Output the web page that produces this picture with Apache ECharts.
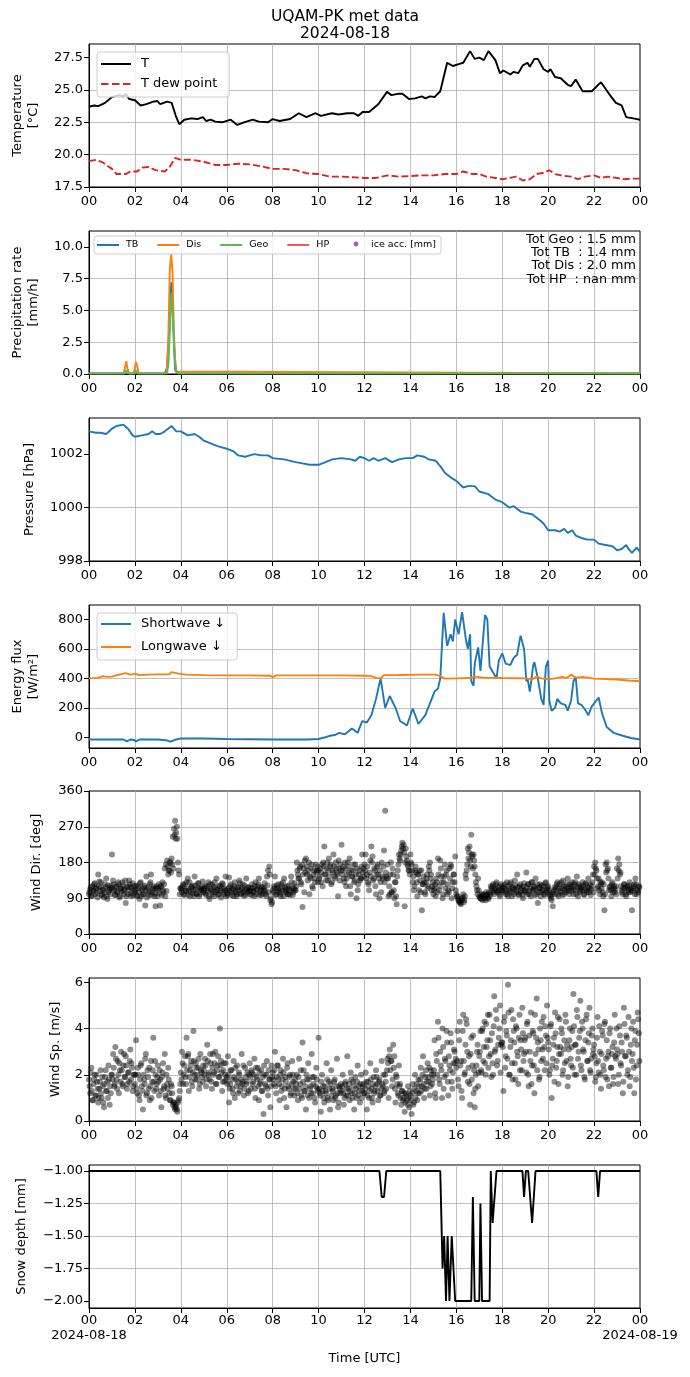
<!DOCTYPE html>
<html><head><meta charset="utf-8">
<script src="https://cdn.jsdelivr.net/npm/echarts@6/dist/echarts.min.js"></script>
<style>html,body{margin:0;padding:0;background:#fff}#c{width:690px;height:1377px}</style>
</head><body><div id="c"></div>
<script>
// ---------- DATA (hours UTC, values) ----------
const hourTicks = [0,2,4,6,8,10,12,14,16,18,20,22,24];
const tempTicks = [17.5,20,22.5,25,27.5];
const precipTicks = [0,2.5,5,7.5,10];
const pressTicks = [998,1000,1002];
const fluxTicks = [0,200,400,600,800];
const dirTicks = [0,90,180,270,360];
const spdTicks = [0,2,4,6];
const snowTicks = [-2,-1.75,-1.5,-1.25,-1];

const tempT = [[0,23.7],[0.23,23.8],[0.4,23.75],[0.7,24.0],[1.0,24.45],[1.3,24.6],[1.5,24.5],[1.6,24.7],[1.75,24.3],[2.0,24.2],[2.25,23.8],[2.5,23.9],[2.8,24.1],[2.97,24.15],[3.1,23.9],[3.4,24.1],[3.6,24.0],[3.78,23.0],[3.93,22.35],[4.15,22.7],[4.45,22.8],[4.73,22.75],[4.96,22.9],[5.1,22.6],[5.3,22.7],[5.5,22.55],[5.8,22.5],[6.17,22.7],[6.46,22.3],[6.75,22.5],[7.13,22.7],[7.4,22.55],[7.8,22.5],[8.0,22.75],[8.3,22.6],[8.76,22.75],[9.14,23.2],[9.47,22.9],[9.87,23.2],[10.1,23.0],[10.58,23.2],[10.87,23.1],[11.25,23.2],[11.54,23.2],[11.73,23.0],[11.92,23.3],[12.2,23.3],[12.6,23.9],[12.98,24.85],[13.17,24.6],[13.46,24.7],[13.65,24.7],[13.94,24.3],[14.2,24.35],[14.5,24.5],[14.65,24.35],[14.85,24.5],[15.05,24.45],[15.3,24.9],[15.45,26.0],[15.6,27.1],[15.85,26.85],[16.1,27.0],[16.3,27.1],[16.6,28.0],[16.8,27.4],[17.0,27.5],[17.2,27.3],[17.4,28.0],[17.7,27.3],[17.9,26.3],[18.05,26.5],[18.35,26.2],[18.5,26.4],[18.7,26.3],[18.9,26.9],[19.1,27.1],[19.2,26.8],[19.4,27.4],[19.55,27.4],[19.8,26.6],[20.0,26.4],[20.1,26.6],[20.3,26.0],[20.55,25.9],[20.85,25.4],[21.0,25.3],[21.2,25.8],[21.5,24.9],[21.9,24.9],[22.3,25.6],[22.65,24.7],[22.95,24.0],[23.2,23.8],[23.4,22.9],[23.7,22.8],[24,22.7]];
const tempTd = [[0,19.5],[0.3,19.6],[0.6,19.4],[1.0,18.9],[1.2,18.5],[1.6,18.5],[1.8,18.7],[2.1,18.7],[2.3,19.0],[2.6,19.05],[2.9,18.8],[3.3,18.7],[3.5,19.0],[3.75,19.75],[4.0,19.6],[4.5,19.6],[5.0,19.45],[5.5,19.2],[6.0,19.2],[6.5,19.3],[7.0,19.25],[7.5,19.1],[8.0,18.9],[8.5,18.9],[9.0,18.8],[9.5,18.55],[10.0,18.5],[10.5,18.3],[11.0,18.3],[11.5,18.25],[12.0,18.2],[12.5,18.2],[13.0,18.4],[13.5,18.3],[14.0,18.35],[14.5,18.4],[15.0,18.4],[15.5,18.5],[16.0,18.5],[16.3,18.7],[16.7,18.5],[17.0,18.5],[17.3,18.3],[17.7,18.2],[18.0,18.1],[18.3,18.2],[18.6,18.3],[18.9,18.0],[19.2,18.1],[19.5,18.5],[19.8,18.6],[20.05,18.8],[20.3,18.5],[20.7,18.35],[21.0,18.3],[21.3,18.1],[21.6,18.3],[22.0,18.4],[22.3,18.2],[22.6,18.3],[23.0,18.2],[23.3,18.1],[23.6,18.15],[24,18.15]];

const precipTB = [[0,0.05],[1.55,0.05],[1.62,0.2],[1.7,0.05],[3.3,0.05],[3.4,0.5],[3.5,3.5],[3.58,7.2],[3.65,5.0],[3.75,0.3],[3.85,0.05],[24,0.05]];
const precipDis = [[0,0.05],[1.5,0.05],[1.56,0.4],[1.62,1.0],[1.68,0.4],[1.75,0.05],[1.95,0.05],[2.0,0.5],[2.05,0.95],[2.1,0.6],[2.17,0.05],[3.25,0.05],[3.3,0.2],[3.38,0.15],[3.45,2.5],[3.52,8.2],[3.58,9.4],[3.64,8.0],[3.7,3.0],[3.78,0.2],[3.85,0.05],[24,0.05]];
const precipGeo = [[0,0.05],[1.55,0.05],[1.62,0.3],[1.7,0.05],[2.0,0.05],[2.05,0.3],[2.12,0.05],[3.4,0.05],[3.47,1.0],[3.54,4.5],[3.6,6.4],[3.66,4.0],[3.72,1.5],[3.8,0.3],[3.88,0.05],[22.7,0.05],[22.78,0.18],[22.86,0.05],[24,0.05]];
const precipHP = [];
const iceAcc = [];
const precipTotals = ['Tot Geo : 1.5 mm','Tot TB  : 1.4 mm','Tot Dis : 2.0 mm','Tot HP  : nan mm'];

const pressure = [[0,1002.85],[0.3,1002.8],[0.5,1002.8],[0.75,1002.75],[1.0,1002.95],[1.2,1003.05],[1.5,1003.1],[1.7,1002.95],[1.9,1002.7],[2.0,1002.65],[2.3,1002.7],[2.6,1002.75],[2.75,1002.85],[2.9,1002.75],[3.1,1002.75],[3.3,1002.85],[3.6,1003.05],[3.8,1002.85],[4.0,1002.85],[4.3,1002.7],[4.6,1002.75],[4.8,1002.65],[5.0,1002.5],[5.3,1002.4],[5.6,1002.3],[6.0,1002.2],[6.3,1002.1],[6.5,1001.95],[6.8,1001.9],[7.0,1001.95],[7.2,1002.0],[7.5,1001.95],[7.8,1001.95],[8.0,1001.85],[8.5,1001.8],[9.0,1001.7],[9.3,1001.65],[9.6,1001.6],[10.0,1001.6],[10.3,1001.7],[10.6,1001.8],[11.0,1001.85],[11.4,1001.8],[11.6,1001.75],[11.8,1001.9],[12.0,1001.85],[12.2,1001.75],[12.4,1001.85],[12.6,1001.75],[12.9,1001.85],[13.2,1001.7],[13.5,1001.8],[13.8,1001.85],[14.1,1001.85],[14.3,1001.95],[14.6,1001.9],[14.8,1001.8],[15.1,1001.75],[15.3,1001.55],[15.5,1001.3],[15.8,1001.1],[16.0,1001.0],[16.3,1000.75],[16.5,1000.8],[16.8,1000.8],[17.0,1000.6],[17.4,1000.5],[17.7,1000.3],[18.0,1000.2],[18.3,1000.0],[18.5,1000.05],[18.8,999.85],[19.0,999.8],[19.3,999.75],[19.6,999.55],[19.8,999.4],[20.0,999.15],[20.3,999.15],[20.5,999.1],[20.7,999.2],[20.85,999.05],[21.05,999.15],[21.2,998.95],[21.5,998.85],[21.7,998.8],[22.0,998.8],[22.2,998.65],[22.5,998.6],[22.8,998.55],[23.0,998.4],[23.2,998.45],[23.4,998.6],[23.5,998.45],[23.65,998.3],[23.85,998.5],[24.0,998.35]];

const shortwave = [[0,-15],[0.8,-15],[1.5,-15],[1.65,-28],[1.8,-15],[1.95,-18],[2.05,-28],[2.2,-15],[3.0,-15],[3.35,-20],[3.55,-30],[3.8,-15],[4.0,-8],[5.0,-8],[6.0,-12],[8.0,-15],[9.5,-15],[10.0,-12],[10.25,-2],[10.5,10],[10.7,15],[10.9,30],[11.15,20],[11.45,60],[11.7,30],[11.9,110],[12.1,100],[12.3,150],[12.5,260],[12.7,400],[12.9,200],[13.1,280],[13.35,200],[13.55,110],[13.85,80],[14.1,195],[14.35,90],[14.65,150],[14.85,230],[15.05,310],[15.2,330],[15.3,400],[15.45,845],[15.6,620],[15.75,700],[15.85,650],[15.95,800],[16.1,700],[16.25,850],[16.33,855],[16.43,650],[16.5,600],[16.6,700],[16.65,380],[16.75,350],[16.8,500],[16.95,610],[17.05,450],[17.25,830],[17.35,800],[17.45,480],[17.6,440],[17.75,400],[17.85,520],[18.0,570],[18.15,500],[18.35,490],[18.5,540],[18.65,560],[18.75,650],[18.8,690],[18.95,600],[19.05,380],[19.1,400],[19.2,310],[19.35,490],[19.4,510],[19.55,400],[19.7,260],[19.8,220],[19.9,480],[20.0,520],[20.05,250],[20.15,180],[20.3,200],[20.4,260],[20.55,230],[20.75,220],[20.85,180],[21.0,250],[21.1,380],[21.2,410],[21.3,230],[21.45,220],[21.6,190],[21.75,150],[21.9,210],[22.0,230],[22.2,270],[22.35,160],[22.55,70],[22.85,30],[23.25,10],[23.6,-5],[24,-15]];
const longwave = [[0,400],[0.4,403],[0.6,415],[0.8,410],[1.0,412],[1.3,425],[1.6,435],[1.8,425],[2.0,432],[2.2,422],[2.6,425],[3.0,427],[3.5,428],[3.6,442],[3.9,432],[4.2,425],[5,422],[6,420],[7,420],[7.9,418],[8.0,408],[8.15,420],[9,420],[10,420],[11,420],[12,418],[12.3,415],[12.5,403],[12.7,400],[12.85,422],[13.5,423],[14.5,425],[15.1,425],[15.3,415],[15.5,398],[16,400],[16.6,402],[16.8,412],[17.2,405],[18,402],[19,400],[19.3,393],[19.5,412],[19.7,400],[20.0,393],[20.3,400],[20.6,410],[20.8,402],[21.0,425],[21.2,405],[21.5,410],[22.0,398],[23.0,392],[23.5,385],[24,380]];

// wind samples: set A every 3 minutes from 00:00, set B every 3 minutes from 00:01:30 (20 per hour each)
const windDirA = [
100,112,95,120,108,128,115,104,150,132,118,98,110,92,125,140,88,105,115,122,
200,135,110,98,120,105,125,95,115,130,108,112,78,120,100,135,118,95,128,110,
105,122,95,115,88,130,110,100,118,72,145,112,98,125,150,105,115,95,70,120,
110,125,72,118,130,105,165,175,185,150,160,178,190,245,265,285,255,240,160,100,
115,105,125,98,110,130,140,108,95,118,122,102,145,112,100,128,95,115,110,132,
108,120,98,115,130,88,112,125,105,95,118,140,110,100,122,92,128,105,115,145,
110,98,142,120,105,115,95,130,108,100,118,135,102,112,125,96,110,140,105,118,
100,115,125,108,95,130,112,120,140,105,98,118,110,128,100,145,160,170,85,75,
110,120,145,100,115,125,105,95,118,130,140,108,112,100,122,98,145,115,105,128,
110,180,150,140,170,125,68,165,185,190,150,160,100,140,175,115,160,130,155,170,
160,145,130,175,180,220,150,165,135,190,170,125,160,200,145,180,155,95,165,175,
225,160,140,180,120,150,170,190,100,145,160,130,175,90,110,150,135,140,200,165,
175,200,150,130,110,185,220,195,140,160,100,170,150,90,130,180,140,210,310,145,
175,95,100,180,105,150,90,130,75,160,200,185,210,230,225,70,215,185,170,160,
200,175,130,110,160,155,95,150,160,105,60,125,130,100,140,115,170,180,150,120,
100,115,95,130,190,110,185,145,90,130,175,150,100,110,165,175,90,130,150,195,
100,95,85,80,75,90,100,85,150,160,215,205,185,250,195,200,170,130,110,140,
95,90,100,85,98,92,105,100,88,95,120,110,125,100,115,130,105,110,95,125,
108,120,115,100,130,95,112,125,105,118,100,135,110,150,98,120,105,115,90,128,
110,155,100,125,108,95,130,112,118,140,100,78,115,125,105,110,120,98,130,112,
120,105,95,85,70,110,100,118,130,95,125,105,115,135,100,120,110,140,108,125,
115,130,100,125,110,145,95,120,108,118,130,100,112,125,105,140,115,98,120,150,
170,180,160,115,140,100,125,130,95,60,175,180,165,110,120,95,130,115,105,120,
165,190,175,155,110,100,125,115,95,120,105,130,110,60,115,125,140,100,110,120];
const windDirB = [
105,118,96,110,125,100,115,92,120,108,130,98,112,104,118,95,122,110,100,116,
112,125,98,118,105,130,92,115,108,122,100,135,95,118,110,125,102,115,98,120,
110,98,120,105,128,95,115,100,122,108,92,118,105,130,98,112,120,102,115,95,
115,102,120,98,110,125,95,108,170,160,182,155,175,165,250,240,270,180,150,115,
112,120,100,125,108,115,98,130,105,118,110,95,122,102,115,128,100,112,118,105,
115,102,120,108,95,125,110,100,118,130,105,112,98,120,108,115,125,100,110,95,
102,115,108,125,98,112,120,105,95,118,110,128,100,115,105,122,98,112,118,108,
108,98,115,105,120,100,112,125,98,110,118,102,115,108,95,122,105,150,90,80,
105,115,98,122,108,112,100,125,110,95,118,105,120,100,112,108,130,98,115,110,
120,160,140,165,130,175,150,105,155,170,135,180,145,165,120,150,140,175,160,130,
140,165,155,120,170,150,135,180,160,145,175,130,155,170,140,165,150,185,135,160,
150,170,130,165,140,180,155,120,160,145,175,135,150,165,125,160,140,170,155,145,
160,140,170,125,155,145,180,135,165,120,150,175,140,160,105,145,170,130,155,140,
140,120,150,105,165,110,130,95,145,175,190,200,220,215,205,180,195,175,160,150,
180,160,145,120,170,130,150,110,135,160,125,145,105,130,150,120,160,140,110,130,
110,125,140,105,150,120,165,130,100,145,115,160,125,105,140,170,115,150,130,110,
95,88,82,78,85,92,80,95,140,175,190,220,170,200,165,185,150,120,100,110,
92,88,95,100,90,85,98,92,105,100,115,120,105,112,125,108,118,100,120,110,
115,105,125,110,100,120,108,130,95,115,112,122,105,118,100,125,110,98,120,108,
105,118,125,100,115,130,108,120,98,112,125,105,118,95,122,110,100,128,105,118,
110,98,90,100,105,118,112,125,100,115,108,130,98,120,112,105,125,115,100,120,
108,120,112,130,100,118,125,105,115,110,122,98,128,110,118,105,125,112,130,105,
150,165,140,120,110,130,115,105,125,100,155,160,140,118,110,125,105,120,112,100,
140,160,150,120,105,115,125,100,118,110,122,105,115,108,120,100,125,112,105,118];
const windSpdA = [
1.8,1.2,2.3,0.9,1.6,2.0,1.1,1.7,0.8,1.4,2.2,1.0,1.5,0.6,1.9,1.3,1.7,2.4,0.7,1.2,
2.0,2.9,1.5,3.2,1.8,2.6,1.2,2.2,3.0,1.6,2.4,1.9,2.8,1.4,2.1,1.7,3.1,2.5,1.3,2.0,
1.6,3.5,1.2,2.0,0.9,2.4,1.5,0.5,1.8,2.7,1.1,2.2,1.4,0.9,2.6,1.7,3.6,1.3,2.0,1.6,
2.4,1.1,1.8,0.6,2.1,1.4,2.9,1.0,1.6,2.3,1.2,0.9,1.5,0.7,0.8,0.5,0.6,0.4,0.9,1.3,
2.1,3.0,1.6,2.4,1.9,3.6,2.8,1.3,2.2,2.6,1.5,3.9,2.0,2.5,1.8,2.3,1.4,2.9,2.1,1.7,
2.2,2.7,1.5,3.3,2.0,1.8,2.5,1.4,2.9,2.1,3.0,1.6,2.4,1.9,4.0,2.6,1.3,2.2,1.7,2.5,
1.9,2.8,0.8,1.6,2.2,1.4,2.6,1.0,1.8,2.4,1.2,2.0,1.5,2.9,1.7,1.1,2.3,1.6,2.1,1.3,
2.5,1.4,2.1,1.7,2.7,1.0,1.9,2.3,0.9,1.6,2.2,1.3,0.3,2.0,1.5,2.6,1.1,1.8,0.6,2.4,
2.1,1.6,3.0,1.2,2.4,1.8,0.9,2.2,1.5,2.7,1.0,1.9,0.6,2.5,1.4,2.0,1.2,2.6,1.7,1.1,
1.4,2.0,0.9,2.7,1.6,1.1,3.4,2.2,1.3,0.5,1.8,2.5,1.0,1.5,2.9,1.2,1.9,0.8,2.3,1.4,
3.6,1.2,0.4,2.0,1.5,0.8,1.3,2.5,1.0,1.7,0.5,2.2,1.4,0.9,1.8,1.1,2.7,0.6,1.5,1.2,
1.3,2.0,0.7,1.6,1.1,2.8,1.4,0.9,2.1,1.2,1.7,0.5,1.9,1.0,2.4,1.5,0.8,2.0,1.3,1.6,
1.2,2.1,0.5,1.7,1.0,2.5,1.4,0.8,1.9,1.3,2.2,1.6,0.9,1.8,1.1,2.6,1.5,1.2,2.0,1.4,
2.7,1.0,3.1,2.6,1.5,3.3,2.8,0.8,1.9,1.2,2.4,1.6,0.7,1.3,1.0,0.4,1.2,0.9,1.5,0.6,
1.1,0.3,1.6,0.8,2.0,1.3,0.9,1.8,1.2,2.3,1.5,2.8,1.0,1.9,1.4,2.5,1.7,1.1,2.2,1.6,
2.0,3.5,1.0,2.6,4.3,1.8,3.0,2.2,4.0,1.4,2.7,2.0,3.4,1.1,2.4,3.8,1.7,2.1,3.1,2.5,
2.3,3.9,1.5,4.3,2.6,1.0,4.6,2.0,3.3,4.2,1.7,2.8,0.7,3.6,2.4,1.2,0.6,2.0,3.0,1.5,
2.8,3.9,2.1,4.0,3.2,2.5,4.2,3.5,2.3,4.6,2.9,3.8,2.0,5.4,3.1,4.4,2.6,3.6,5.0,3.3,
3.4,1.3,4.5,2.8,3.7,5.9,2.0,3.2,4.8,1.8,3.9,2.5,4.1,3.0,1.6,4.6,3.5,2.2,3.8,2.9,
3.6,2.1,4.3,1.5,3.0,4.7,2.4,3.8,1.2,2.9,5.3,3.4,1.8,4.0,2.6,3.1,4.5,2.2,3.7,5.0,
3.4,2.0,4.1,1.0,2.7,3.6,4.7,2.3,3.2,1.6,4.4,2.9,3.8,2.2,3.5,4.6,2.6,1.5,3.1,4.0,
2.4,3.9,5.5,2.0,3.3,4.8,2.7,3.6,5.2,2.2,4.0,3.0,1.8,4.4,2.6,3.4,4.9,2.1,3.7,2.9,
3.3,1.7,2.5,4.5,2.1,3.0,1.4,3.9,2.4,4.2,1.9,3.5,2.8,1.5,4.0,2.3,3.2,1.9,4.6,2.7,
3.1,1.6,4.1,2.5,3.4,1.2,4.9,2.8,3.7,2.0,4.5,1.5,3.3,2.6,4.3,1.2,3.9,2.4,4.7,3.8];
const windSpdB = [
1.5,2.1,1.3,0.9,1.8,1.1,2.0,1.4,1.0,1.7,1.2,1.9,0.8,1.6,2.2,1.3,1.0,1.8,1.5,2.0,
1.8,2.3,1.6,2.7,1.4,2.0,2.5,1.7,2.2,1.5,2.9,1.9,2.4,1.6,2.1,2.6,1.8,2.3,1.5,2.0,
2.0,1.4,2.3,1.1,1.8,2.5,1.3,2.0,1.6,2.9,1.2,1.9,2.3,1.5,1.0,2.2,1.7,2.6,1.4,1.9,
1.7,2.2,1.3,1.9,2.5,1.5,1.1,2.0,1.4,1.8,0.9,1.6,1.2,0.8,0.6,0.7,0.5,0.8,1.0,1.6,
1.8,2.5,2.0,2.8,1.6,2.2,2.9,1.9,2.4,1.7,2.1,2.6,1.8,2.3,2.0,2.7,1.6,2.2,1.9,2.4,
2.0,2.4,1.8,2.6,2.1,2.9,1.7,2.3,2.0,2.5,1.6,2.2,2.8,1.9,2.4,2.1,1.7,2.5,2.0,1.8,
1.6,2.0,1.4,2.2,1.8,1.2,1.9,2.3,1.5,1.7,2.1,1.3,1.8,1.6,2.4,1.4,1.9,1.7,1.2,2.0,
1.9,2.2,1.6,2.0,1.4,2.3,1.8,1.5,2.1,1.7,1.3,1.9,2.4,1.6,2.0,1.4,2.2,1.8,1.5,1.9,
1.8,2.2,1.5,1.9,2.4,1.6,2.0,1.3,1.8,2.1,1.4,1.7,2.3,1.5,1.9,1.1,1.6,2.0,1.4,1.8,
1.6,1.2,1.9,1.4,2.2,1.0,1.7,1.3,1.5,2.0,1.1,1.8,1.4,1.2,1.9,1.6,1.0,1.5,1.8,1.3,
1.4,1.1,1.7,1.3,1.0,1.5,1.2,1.8,0.9,1.4,1.6,1.1,1.3,1.7,1.0,1.5,1.2,0.8,1.4,1.6,
1.5,1.2,1.0,1.7,1.4,1.1,1.6,1.3,1.8,1.0,1.5,1.2,1.4,1.7,1.1,1.3,1.6,1.0,1.5,1.2,
1.4,1.7,1.1,1.5,1.3,1.8,1.0,1.6,1.2,1.5,1.9,1.3,1.7,1.1,1.4,1.6,2.0,1.3,1.7,2.2,
2.5,2.8,2.2,2.6,1.8,2.3,1.4,2.0,1.6,1.1,1.5,1.0,1.3,0.9,1.2,0.8,1.1,0.7,1.0,1.3,
0.9,1.2,0.7,1.4,1.0,1.6,1.2,1.5,1.8,1.3,2.0,1.6,1.4,2.2,1.7,1.9,2.3,1.5,2.0,1.8,
2.2,1.2,2.9,2.0,3.6,1.6,2.4,1.0,3.2,1.9,2.6,3.9,1.7,2.8,2.2,3.4,1.4,2.5,3.0,2.7,
2.6,1.8,3.5,2.4,1.3,3.9,2.6,2.1,4.4,3.0,2.3,1.6,2.9,1.8,3.7,2.2,1.4,2.4,3.3,2.1,
3.0,2.2,3.9,2.6,4.3,2.0,3.2,4.6,2.8,3.5,1.9,2.5,4.1,3.0,4.8,2.4,3.3,4.0,2.1,3.4,
3.2,4.3,2.3,3.9,2.7,4.7,2.0,3.5,2.5,4.4,3.4,1.8,4.0,2.8,3.6,2.2,3.1,4.9,2.6,3.5,
3.0,4.2,2.0,3.7,2.6,1.6,3.9,2.4,4.6,3.6,2.2,3.1,1.9,3.5,4.3,2.7,3.2,4.1,2.5,3.6,
3.1,2.2,4.2,2.4,3.3,1.7,3.8,2.6,4.5,2.9,3.2,4.0,2.0,3.1,2.5,4.3,3.3,1.9,3.5,2.7,
3.2,2.3,4.1,3.3,2.0,4.5,3.0,3.9,2.4,4.3,3.1,1.9,3.5,4.6,2.6,3.8,2.2,2.7,4.0,3.1,
2.8,1.9,3.6,2.6,4.1,2.0,2.9,3.7,2.2,4.3,2.7,1.8,3.0,3.8,2.3,2.9,1.6,3.4,2.8,4.0,
2.9,2.0,3.7,2.4,3.0,1.7,4.2,2.8,3.6,2.2,3.0,1.9,4.0,2.9,2.3,3.5,1.8,3.3,4.4,2.6];
const windStepHours = 0.05;   // 3 minutes
const windOffsetB = 0.025;    // 1.5 minutes

const snowDepth = [[0,-1],[12.65,-1],[12.75,-1.2],[12.85,-1.2],[12.95,-1],[15.3,-1],[15.4,-1.75],[15.47,-1.5],[15.55,-2],[15.62,-1.5],[15.7,-2],[15.8,-1.5],[15.95,-2],[16.65,-2],[16.72,-1.2],[16.8,-2],[17.0,-2],[17.05,-1.25],[17.12,-2],[17.45,-2],[17.5,-1],[17.58,-1.4],[17.75,-1],[18.88,-1],[18.95,-1.2],[19.03,-1],[19.13,-1],[19.3,-1.4],[19.45,-1],[22.1,-1],[22.18,-1.2],[22.26,-1],[24,-1]];

// ---------- CHART ----------
const FONT = 'DejaVu Sans';
const FS = 13;
const tops = [44,231,418,605,791,978,1165];
const pad2 = v => String(Math.round(v) % 24).padStart(2,'0');
const minus = s => s.replace('-', '\u2212');

const grid = tops.map(t => ({left:89, right:50, top:t, height:143, show:true, borderColor:'#000', borderWidth:1, backgroundColor:'transparent'}));

const xAxis = tops.map((t,i) => ({
  type:'value', gridIndex:i, min:0, max:24, interval:2,
  axisLine:{show:true, onZero:false, lineStyle:{color:'#000', width:1}},
  axisTick:{show:true, length:5, lineStyle:{color:'#000', width:1}},
  axisLabel:{color:'#000', fontSize:FS, fontFamily:FONT, margin:i < 6 ? 7 : 5, showMinLabel:true, showMaxLabel:true, lineHeight:i < 6 ? 16 : 15,
    formatter: i < 6 ? (v => pad2(v)) : (v => v === 0 ? '00\n2024-08-18' : (v === 24 ? '00\n2024-08-19' : pad2(v)))},
  splitLine:{show:true, showMinLine:false, showMaxLine:false, lineStyle:{color:'#b0b0b0', width:0.8}}
}));

function yAx(i, min, max, ticks, fmt, interval) {
  const o = {type:'value', gridIndex:i, min:min, max:max,
    axisLine:{show:true, onZero:false, lineStyle:{color:'#000', width:1}},
    axisTick:{show:true, length:5, customValues:ticks, lineStyle:{color:'#000', width:1}},
    axisLabel:{customValues:ticks, formatter:fmt, color:'#000', fontSize:FS, fontFamily:FONT, margin:6},
    splitLine:{show:true, showMinLine:false, showMaxLine:false, lineStyle:{color:'#b0b0b0', width:0.8}}};
  if (interval) o.interval = interval;
  return o;
}
const yAxis = [
  yAx(0, 17.5, 28.55, tempTicks, v => v.toFixed(1), 2.5),
  yAx(1, 0, 11.24, precipTicks, v => v.toFixed(1), 2.5),
  yAx(2, 998, 1003.35, pressTicks, v => String(v), 2),
  yAx(3, -73, 898, fluxTicks, v => String(v)),
  yAx(4, 0, 360, dirTicks, v => String(v), 90),
  yAx(5, 0, 6.19, spdTicks, v => String(v), 2),
  yAx(6, -2.054, -0.954, snowTicks, v => minus(v.toFixed(2)))
];

function line(name, idx, data, color, extra) {
  return Object.assign({type:'line', name:name, xAxisIndex:idx, yAxisIndex:idx, data:data, showSymbol:false, symbol:'none',
    lineStyle:{color:color, width:1.9}, itemStyle:{color:color}, animation:false, z:3}, extra || {});
}
function windPoints(a, b) {
  return a.map((v,k) => [k*windStepHours, v]).concat(b.map((v,k) => [k*windStepHours + windOffsetB, v]));
}
function scatter(idx, a, b) {
  return {type:'scatter', xAxisIndex:idx, yAxisIndex:idx, data: windPoints(a, b),
    symbolSize:6, itemStyle:{color:'#000', opacity:0.45}, animation:false, z:3};
}

const series = [
  line('T', 0, tempT, '#000000'),
  line('T dew point', 0, tempTd, '#d62728', {lineStyle:{color:'#d62728', width:1.9, type:[7,3]}}),
  line('TB', 1, precipTB, '#1f77b4'),
  line('Dis', 1, precipDis, '#ff7f0e'),
  line('Geo', 1, precipGeo, '#5cb85c'),
  line('HP', 1, precipHP, '#e0615f'),
  {type:'scatter', name:'ice acc. [mm]', xAxisIndex:1, yAxisIndex:1, data:iceAcc, symbolSize:5, itemStyle:{color:'#9467bd'}},
  line('Pressure', 2, pressure, '#1f77b4'),
  line('Shortwave \u2193', 3, shortwave, '#1f77b4'),
  line('Longwave \u2193', 3, longwave, '#ff7f0e'),
  scatter(4, windDirA, windDirB),
  scatter(5, windSpdA, windSpdB),
  line('Snow', 6, snowDepth, '#000000')
];

// legend handle shapes (thin bar centered in the icon box; degenerate corners fix the box size)
const solid30 = 'path://M0,0L30,0L30,0Z M0,6h30v2h-30z M0,14L30,14L30,14Z';
const dash30 = 'path://M0,0L30,0L30,0Z M0,6h7.5v2h-7.5z M11,6h7.5v2h-7.5z M22,6h7.5v2h-7.5z M0,14L30,14L30,14Z';
const solid22 = 'path://M0,0L22,0L22,0Z M0,4h22v2h-22z M0,10L22,10L22,10Z';

const legendBase = {selectedMode:false, backgroundColor:'rgba(255,255,255,0.8)', borderColor:'#cccccc', borderWidth:1, borderRadius:3, z:10};
const legend = [
  Object.assign({}, legendBase, {orient:'vertical', left:97, top:52, padding:[5,12,6,4], itemWidth:30, itemHeight:14, itemGap:6,
    textStyle:{fontSize:FS, fontFamily:FONT, color:'#000', padding:[0,0,0,5]},
    data:[{name:'T', icon:solid30}, {name:'T dew point', icon:dash30}]}),
  Object.assign({}, legendBase, {orient:'horizontal', left:94, top:236, padding:[4,5,4,3], itemWidth:22, itemHeight:10, itemGap:19,
    textStyle:{fontSize:9.5, fontFamily:FONT, color:'#000', padding:[0,0,0,2]},
    data:[{name:'TB', icon:solid22},{name:'Dis', icon:solid22},{name:'Geo', icon:solid22},{name:'HP', icon:solid22},
          {name:'ice acc. [mm]', icon:'circle', itemStyle:{color:'rgba(0,0,0,0)', borderWidth:0}}]}),
  Object.assign({}, legendBase, {orient:'vertical', left:97, top:613, padding:[4,12,6,4], itemWidth:30, itemHeight:14, itemGap:9,
    textStyle:{fontSize:FS, fontFamily:FONT, color:'#000', padding:[0,0,0,5]},
    data:[{name:'Shortwave \u2193', icon:solid30},{name:'Longwave \u2193', icon:solid30}]})
];

function gtext(x, y, text, size, rot, lh, align) {
  return {type:'text', x:x, y:y, rotation:rot || 0, z:20,
    style:{text:text, fill:'#000', fontSize:size, fontFamily:FONT, align:align || 'center', verticalAlign:'middle', lineHeight:lh || Math.round(size*1.2)}};
}
const R = Math.PI/2;
const graphic = [
  gtext(345, 16.5, 'UQAM-PK met data', 15.5),
  gtext(345, 33.5, '2024-08-18', 15.5),
  gtext(26, 115.5, 'Temperature\n[°C]', FS, R, 16),
  gtext(26, 302.5, 'Precipitation rate\n[mm/h]', FS, R, 16),
  gtext(30, 489.5, 'Pressure [hPa]', FS, R),
  gtext(26, 676.5, 'Energy flux\n[W/m\u00b2]', FS, R, 16),
  gtext(37, 862.5, 'Wind Dir. [deg]', FS, R),
  gtext(56, 1049.5, 'Wind Sp. [m/s]', FS, R),
  gtext(22, 1236.5, 'Snow depth [mm]', FS, R),
  gtext(364.5, 1359, 'Time [UTC]', FS),
  gtext(636, 259.5, precipTotals.join('\n'), 12.8, 0, 13.3, 'right'),
  {type:'circle', shape:{cx:356, cy:244, r:2.4}, style:{fill:'#9467bd'}, z:30}
];

const chart = echarts.init(document.getElementById('c'), null, {renderer:'canvas', width:690, height:1377});
chart.setOption({animation:false, backgroundColor:'#fff', textStyle:{fontFamily:FONT}, grid:grid, xAxis:xAxis, yAxis:yAxis, series:series, legend:legend, graphic:graphic});
</script></body></html>
